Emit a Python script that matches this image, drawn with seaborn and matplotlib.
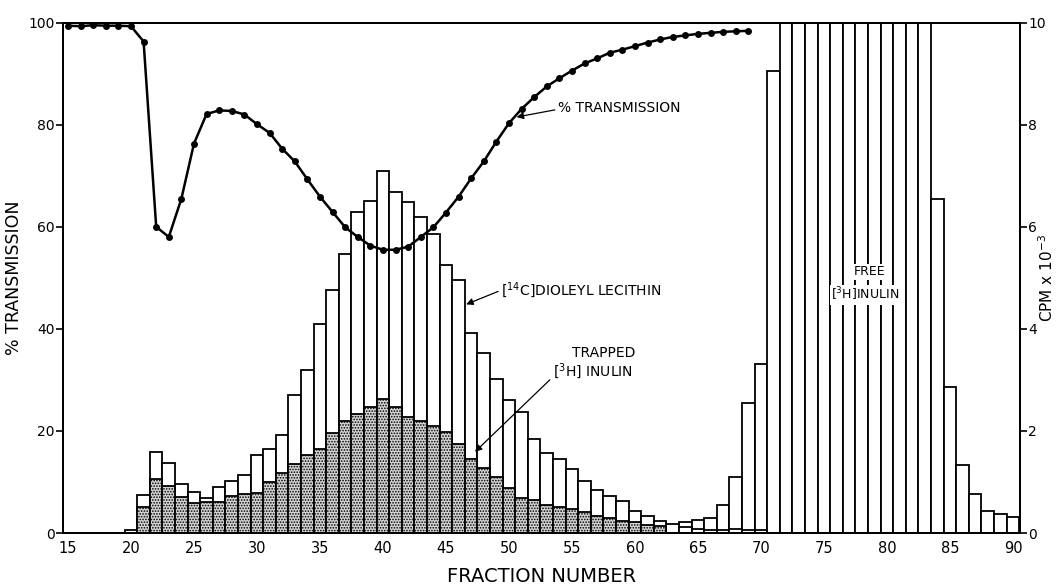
import numpy as np
import pandas as pd
import matplotlib
matplotlib.use("Agg")
import matplotlib.pyplot as plt
import seaborn as sns

# ---------------- data ----------------
fractions = list(range(15, 91))

# [14C] dioleyl lecithin, CPM x 10^-3, fractions 15..90
lecithin_14c = [0, 0, 0, 0, 0, 0.06, 0.75, 1.58, 1.37, 0.96,
                0.81, 0.68, 0.91, 1.01, 1.13, 1.53, 1.64, 1.93, 2.70, 3.19,
                4.10, 4.77, 5.47, 6.29, 6.50, 7.10, 6.69, 6.49, 6.19, 5.85,
                5.26, 4.95, 3.92, 3.52, 3.02, 2.61, 2.37, 1.85, 1.56, 1.45,
                1.25, 1.01, 0.85, 0.72, 0.62, 0.44, 0.33, 0.24, 0.18, 0.11,
                0.08, 0.05, 0.05, 0.07, 0.06, 0.05, 0, 0, 0, 0,
                0, 0, 0, 0, 0, 0, 0, 0, 0, 0,
                0, 0, 0, 0, 0, 0]

# trapped [3H] inulin, CPM x 10^-3, fractions 15..90
trapped_3h = [0, 0, 0, 0, 0, 0, 0.51, 1.05, 0.92, 0.70,
              0.58, 0.60, 0.61, 0.72, 0.76, 0.79, 1.00, 1.18, 1.35, 1.52,
              1.65, 1.95, 2.19, 2.33, 2.46, 2.63, 2.46, 2.27, 2.19, 2.10,
              1.97, 1.75, 1.45, 1.27, 1.10, 0.88, 0.68, 0.64, 0.55, 0.51,
              0.47, 0.41, 0.33, 0.29, 0.23, 0.21, 0.16, 0.13, 0, 0,
              0, 0, 0, 0, 0, 0, 0, 0, 0, 0,
              0, 0, 0, 0, 0, 0, 0, 0, 0, 0,
              0, 0, 0, 0, 0, 0]

# free [3H] inulin, CPM x 10^-3, fractions 15..90 (72-83 run off scale)
free_3h = [0, 0, 0, 0, 0, 0, 0, 0, 0, 0,
           0, 0, 0, 0, 0, 0, 0, 0, 0, 0,
           0, 0, 0, 0, 0, 0, 0, 0, 0, 0,
           0, 0, 0, 0, 0, 0, 0, 0, 0, 0,
           0, 0, 0, 0, 0, 0, 0, 0, 0, 0.21,
           0.25, 0.30, 0.54, 1.10, 2.55, 3.32, 9.05, 12, 12, 12,
           12, 12, 12, 12, 12, 12, 12, 12, 12, 6.55,
           2.87, 1.34, 0.77, 0.43, 0.37, 0.32]

# % transmission, fractions 15..69
trans_fractions = list(range(15, 70))
transmission = [99.4, 99.3, 99.5, 99.4, 99.4, 99.3, 96.3, 60.0, 58.0, 65.5,
                76.3, 82.1, 82.8, 82.7, 82.0, 80.1, 78.4, 75.3, 72.8, 69.3,
                65.9, 62.9, 59.9, 58.0, 56.3, 55.5, 55.5, 56.1, 58.0, 59.9,
                62.8, 65.9, 69.5, 72.8, 76.7, 80.3, 83.1, 85.4, 87.5, 89.1,
                90.6, 92.0, 93.0, 94.1, 94.7, 95.4, 96.1, 96.7, 97.2, 97.5,
                97.8, 98.0, 98.2, 98.3, 98.4]

x_ticks = list(range(15, 91, 5))
left_ticks = [0, 20, 40, 60, 80, 100]
right_ticks = [0, 2, 4, 6, 8, 10]

# ---------------- style ----------------
sns.set_theme(style="white")
plt.rcParams['font.family'] = ['DejaVu Sans']
plt.rcParams['hatch.linewidth'] = 0.8
plt.rcParams['mathtext.fontset'] = 'dejavusans'

fig = plt.figure(figsize=(10.58, 5.88), dpi=100)
ax = fig.add_axes([0.0595, 0.0935, 0.9045, 0.868])
ax2 = ax.twinx()
ax.set_zorder(2)
ax.patch.set_visible(False)
ax2.set_zorder(1)

df = pd.DataFrame({"fraction": fractions, "lec": lecithin_14c,
                   "trapped": trapped_3h, "free": free_3h})

bar_kw = dict(discrete=True, shrink=1, edgecolor="black", linewidth=1.3,
              alpha=1, ax=ax2, legend=False)
sns.histplot(data=df, x="fraction", weights="free", color="white", **bar_kw)
sns.histplot(data=df, x="fraction", weights="lec", color="white", **bar_kw)
sns.histplot(data=df, x="fraction", weights="trapped", color="#d4d4d4",
             hatch="......", **bar_kw)

sns.lineplot(x=trans_fractions, y=transmission, ax=ax, color="black",
             linewidth=1.8, marker="o", markersize=5, markeredgewidth=0,
             markerfacecolor="black", zorder=5)

# ---------------- axes ----------------
ax.set_xlim(14.6, 90.55)
ax.set_ylim(0, 100)
ax2.set_ylim(0, 10)
ax.set_xticks(x_ticks)
ax.set_yticks(left_ticks)
ax2.set_yticks(right_ticks)
ax.set_xticklabels([str(v) for v in x_ticks], fontsize=10.5)
ax.set_yticklabels([str(v) for v in left_ticks], fontsize=10)
ax2.set_yticklabels([str(v) for v in right_ticks], fontsize=10)

ax.tick_params(axis="x", length=0, pad=6, colors="black")
ax.tick_params(axis="y", length=5, width=1.2, direction="out", pad=1, colors="black", left=True)
ax2.tick_params(axis="y", length=5, width=1.2, direction="out", pad=1, colors="black", right=True)

for a in (ax, ax2):
    for s in a.spines.values():
        s.set_color("black")
        s.set_linewidth(1.4)
        s.set_visible(True)

ax.set_xlabel("FRACTION NUMBER", fontsize=14, labelpad=8, color="black")
ax.set_ylabel("% TRANSMISSION", fontsize=12.5, color="black")
ax.yaxis.set_label_coords(-0.042, 0.5)
ax2.set_xlabel("")
ax2.set_ylabel(r"CPM x 10$^{-3}$", fontsize=11, color="black")
ax2.yaxis.set_label_coords(1.018, 0.5)

# ---------------- annotations ----------------
arrow = dict(arrowstyle="-|>", color="black", lw=0.9, shrinkA=0, shrinkB=0,
             mutation_scale=10)

ax.annotate("% TRANSMISSION", xy=(50.6, 81.5), xytext=(53.9, 83.3),
            fontsize=10, ha="left", va="center", color="black",
            arrowprops=dict(arrow, relpos=(0, 0.4)))

ax.annotate(r"$\left[^{14}\mathrm{C}\right]$DIOLEYL LECITHIN", xy=(46.6, 44.8),
            xytext=(49.4, 47.6), fontsize=10, ha="left", va="center",
            color="black", arrowprops=dict(arrow, relpos=(0, 0.5)))

ax.text(55.0, 35.3, "TRAPPED", fontsize=10, ha="left", va="center", color="black")
ax.annotate(r"$\left[^{3}\mathrm{H}\right]$ INULIN", xy=(47.3, 15.9),
            xytext=(53.5, 31.8), fontsize=10, ha="left", va="center",
            color="black", arrowprops=dict(arrow, relpos=(0, 0.2)))

ax.text(78.6, 51.2, "FREE", fontsize=9, ha="center", va="center", color="black",
        bbox=dict(facecolor="white", edgecolor="none", pad=1))
ax.text(78.3, 46.7, r"$\left[^{3}\mathrm{H}\right]$INULIN", fontsize=9,
        ha="center", va="center", color="black",
        bbox=dict(facecolor="white", edgecolor="none", pad=1))

fig.savefig("out.png", dpi=100)
